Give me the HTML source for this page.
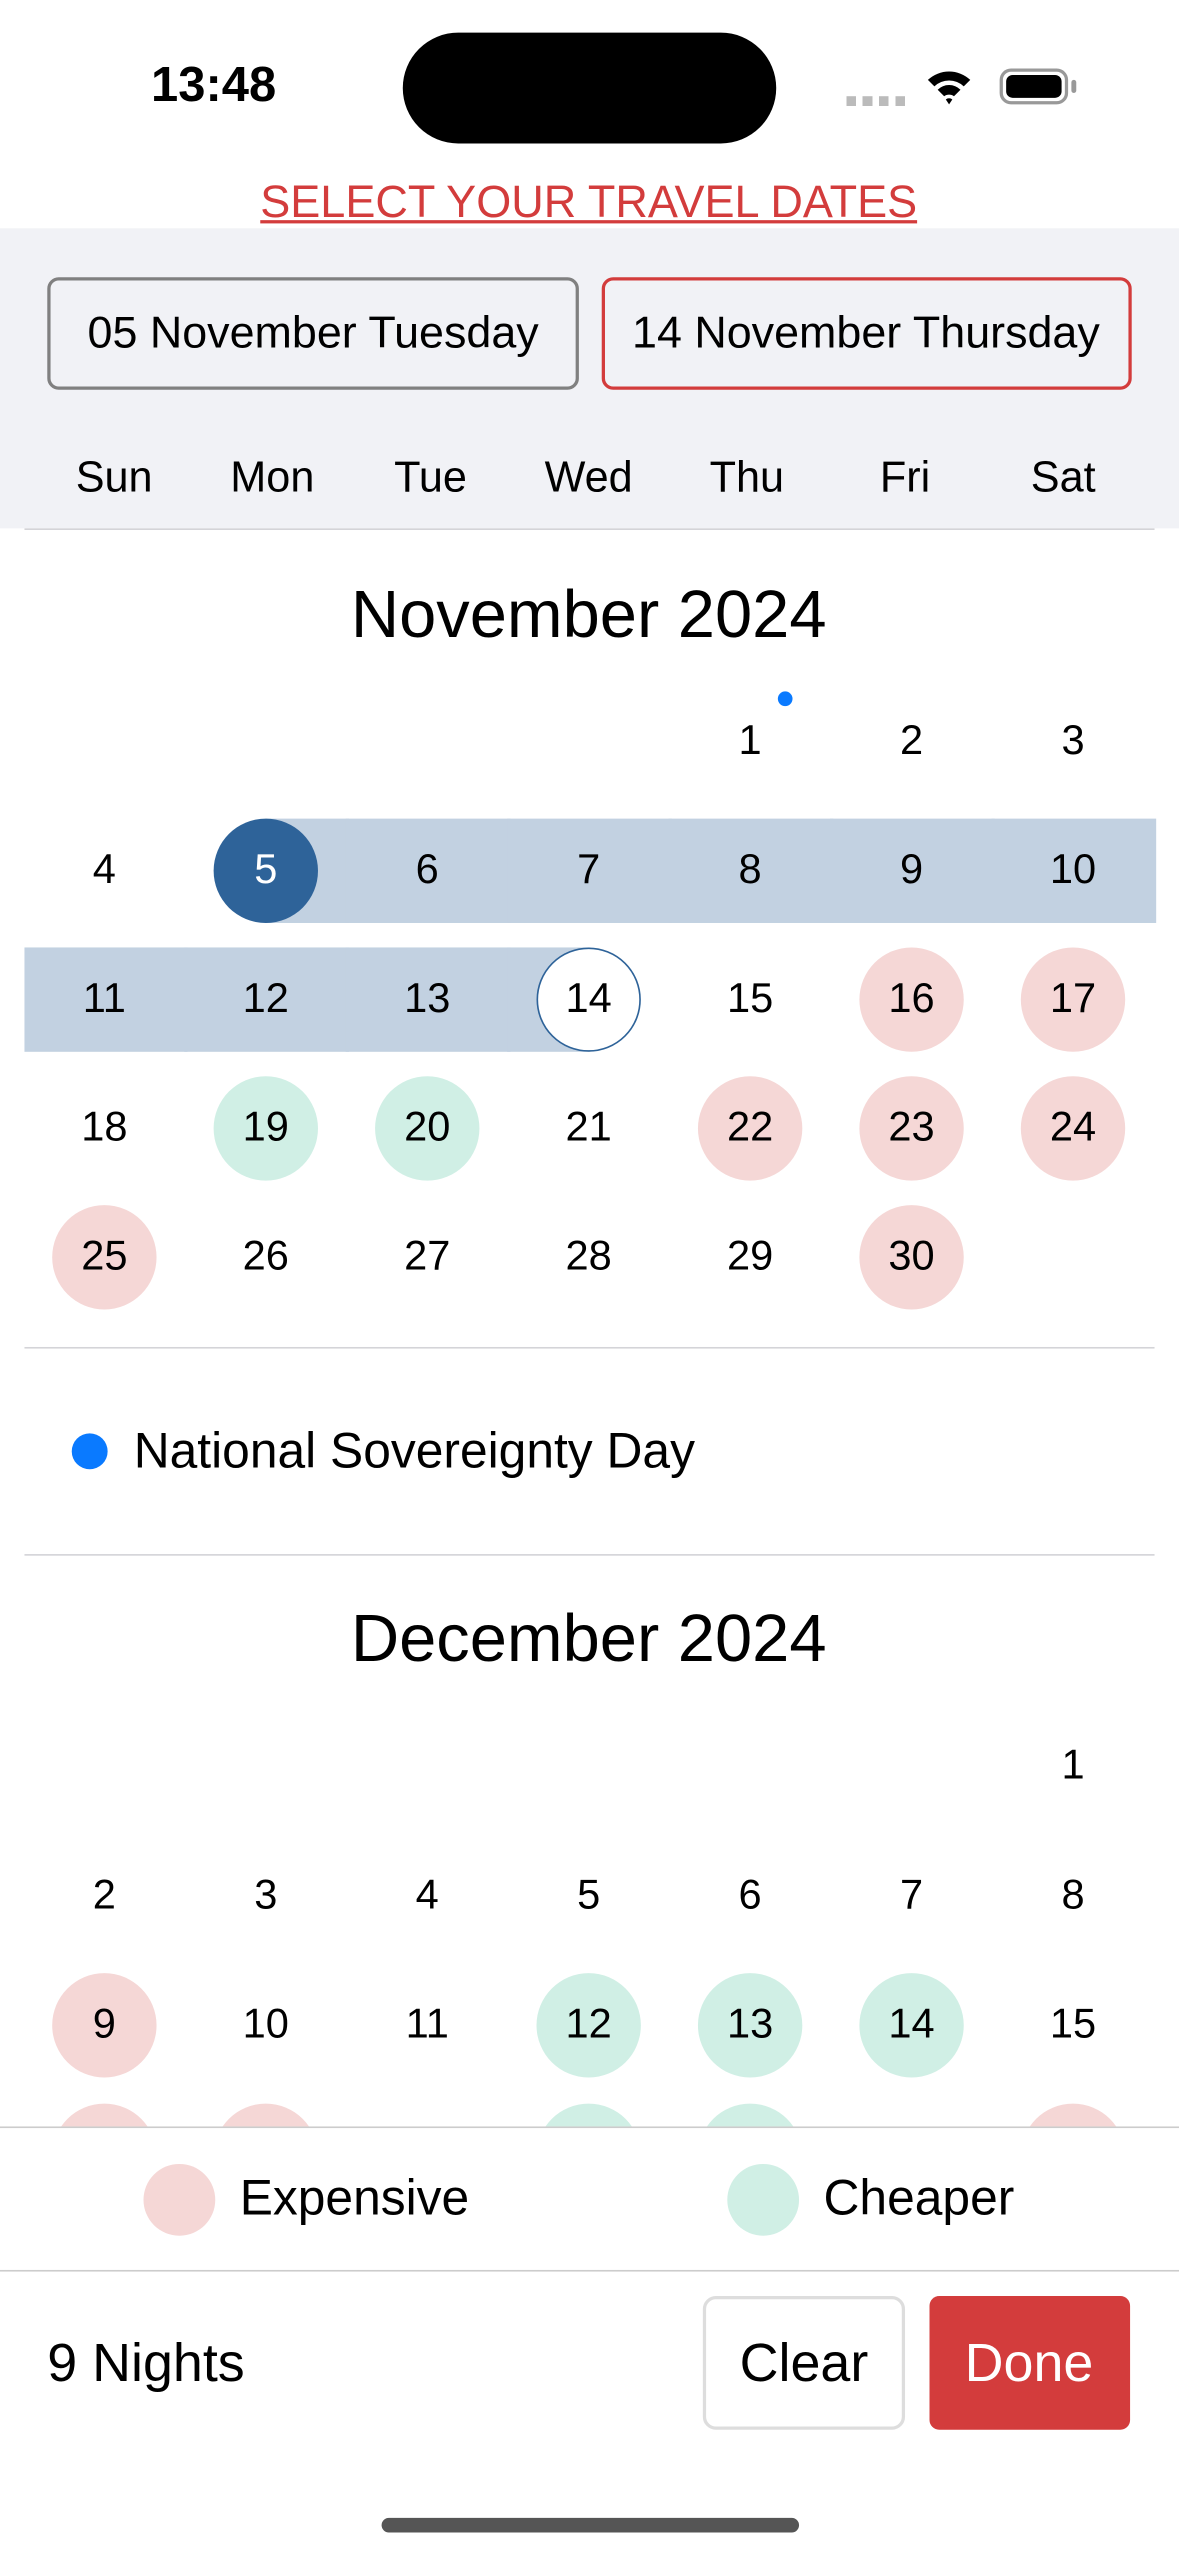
<!DOCTYPE html>
<html><head><meta charset="utf-8">
<style>
html,body{margin:0;padding:0;width:1179px;height:2556px;overflow:hidden;background:#fff;}
#root{position:absolute;left:0;top:0;width:723px;height:1568px;transform:scale(1.63071);transform-origin:0 0;font-family:"Liberation Sans",sans-serif;color:#000;}
.abs{position:absolute;}
.t{position:absolute;white-space:nowrap;}
.c{transform:translate(-50%,-50%);}
.line{position:absolute;height:1px;background:#d4d4d8;}
</style></head><body>
<div id="root">
  <div class="t c" style="left:131px;top:53px;font-size:30px;font-weight:bold;">13:48</div>
  <div class="abs" style="left:247px;top:20px;width:229px;height:68px;border-radius:34px;background:#000;"></div>
  <div class="abs" style="left:519px;top:59px;width:36px;height:6px;background:repeating-linear-gradient(90deg,#bbb 0 6px,transparent 6px 10px);"></div>
  <svg class="abs" style="left:568px;top:41px" width="28" height="24" viewBox="0 0 28 24"><path d="M1 8 A19 19 0 0 1 27 8 L23 12 A13 13 0 0 0 5 12Z M7 14 A10 10 0 0 1 21 14 L17 18 A5 5 0 0 0 11 18Z M12 20 L14 23 L16 20 A3 3 0 0 0 12 20Z" fill="#000"/></svg>
  <div class="abs" style="left:613px;top:42px;width:42px;height:22px;border:2px solid #999;border-radius:7px;box-sizing:border-box;"><div style="position:absolute;left:2px;top:2px;right:2px;bottom:2px;background:#000;border-radius:4px;"></div></div>
  <div class="abs" style="left:657px;top:49px;width:3px;height:8px;background:#999;border-radius:2px;"></div>

  <div class="t c" style="left:361px;top:124px;font-size:27.6px;color:#d33c3c;text-decoration:underline;">SELECT YOUR TRAVEL DATES</div>

  <div class="abs" style="left:0;top:140px;width:723px;height:184px;background:#f1f2f6;"></div>
  <div class="abs" style="left:29px;top:170px;width:326px;height:69px;border:2px solid #808080;border-radius:7px;box-sizing:border-box;"></div>
  <div class="t c" style="left:192px;top:204px;font-size:27.5px;">05 November Tuesday</div>
  <div class="abs" style="left:369px;top:170px;width:325px;height:69px;border:2px solid #d33c3c;border-radius:7px;box-sizing:border-box;"></div>
  <div class="t c" style="left:531px;top:204px;font-size:27.5px;">14 November Thursday</div>
  <div id="wk"></div>
  <div class="line" style="left:15px;top:324px;width:693px;"></div>

  <div class="t c" style="left:361px;top:377px;font-size:41px;">November 2024</div>
  <div class="abs" style="left:477px;top:424px;width:9px;height:9px;border-radius:50%;background:#0a7aff;"></div>
  <div id="cal"></div>
  <div class="line" style="left:15px;top:826px;width:693px;"></div>
  <div class="abs" style="left:44px;top:879px;width:22px;height:22px;border-radius:50%;background:#0a7aff;"></div>
  <div class="t" style="left:82px;top:873px;font-size:30.5px;">National Sovereignty Day</div>
  <div class="line" style="left:15px;top:953px;width:693px;"></div>
  <div class="t c" style="left:361px;top:1005px;font-size:41px;">December 2024</div>

  <div class="abs" style="left:0;top:1304px;width:723px;height:264px;background:#fff;border-top:1px solid #ccc;"></div>
  <div class="abs" style="left:88px;top:1327px;width:44px;height:44px;border-radius:50%;background:#f5d7d6;"></div>
  <div class="t" style="left:147px;top:1331px;font-size:30.5px;">Expensive</div>
  <div class="abs" style="left:446px;top:1327px;width:44px;height:44px;border-radius:50%;background:#d0efe5;"></div>
  <div class="t" style="left:505px;top:1331px;font-size:30.5px;">Cheaper</div>
  <div class="line" style="left:0;top:1392px;width:723px;background:#ccc;"></div>
  <div class="t" style="left:29px;top:1430px;font-size:33px;">9 Nights</div>
  <div class="abs" style="left:431px;top:1408px;width:124px;height:82px;border:2px solid #ddd;border-radius:8px;box-sizing:border-box;"></div>
  <div class="t c" style="left:493px;top:1449px;font-size:33px;">Clear</div>
  <div class="abs" style="left:570px;top:1408px;width:123px;height:82px;background:#d33c3c;border-radius:6px;"></div>
  <div class="t c" style="left:631px;top:1449px;font-size:33px;color:#fff;">Done</div>
  <div class="abs" style="left:234px;top:1544px;width:256px;height:9px;border-radius:5px;background:#555;"></div>
</div>
<script>
const weekdays=["Sun","Mon","Tue","Wed","Thu","Fri","Sat"];
const novStartCol=4, novDays=30;
const novExpensive=[16,17,22,23,24,25,30];
const novCheaper=[19,20];
const rangeStart=5, rangeEnd=14;
const decStartCol=6;
const decExpensive=[9,16,17,22];
const decCheaper=[12,13,14,19,20];
const decVisible=22;

const wk=document.getElementById('wk');
weekdays.forEach((w,i)=>{
  const d=document.createElement('div');
  d.className='t c';d.style.left=(70+i*97)+'px';d.style.top='293px';d.style.fontSize='26.5px';
  d.textContent=w;
  
  
  wk.appendChild(d);
});
const cal=document.getElementById('cal');
const colX=c=>64+c*99;
function addDay(day,col,y,opts,month){
  const x=colX(col);
  if(opts.bg||opts.border){
    const b=document.createElement('div');
    b.className='abs';
    b.style.cssText=`left:${x-32}px;top:${y-32}px;width:64px;height:64px;border-radius:50%;box-sizing:border-box;background:${opts.bg||'#fff'};${opts.border?'border:1.5px solid #2e6399;':''}`;
    
    
    cal.appendChild(b);
  }
  const t=document.createElement('div');
  t.className='t c';t.style.left=x+'px';t.style.top=y+'px';t.style.fontSize='25.5px';
  if(opts.color)t.style.color=opts.color;
  t.textContent=day;
  
  
  cal.appendChild(t);
}
for(let d=rangeStart;d<=rangeEnd;d++){
  const idx=novStartCol+d-1,row=Math.floor(idx/7),col=idx%7,y=455+row*79;
  let l=col===0?15:colX(col)-50, r=col===6?708:colX(col)+50;
  if(d===rangeStart)l=colX(col);
  if(d===rangeEnd)r=colX(col);
  const b=document.createElement('div');
  b.className='abs';
  b.style.cssText=`left:${l}px;top:${y-32}px;width:${r-l+1}px;height:64px;background:#c2d1e1;`;
  
  
  cal.appendChild(b);
}
for(let d=1;d<=novDays;d++){
  const idx=novStartCol+d-1,row=Math.floor(idx/7),col=idx%7,y=455+row*79;
  let o={};
  if(d===rangeStart)o={bg:'#2e6399',color:'#fff'};
  else if(d===rangeEnd)o={bg:'#fff',border:true};
  else if(novExpensive.includes(d))o={bg:'#f5d7d6'};
  else if(novCheaper.includes(d))o={bg:'#d0efe5'};
  addDay(d,col,y,o,'nov');
}
for(let d=1;d<=decVisible;d++){
  const idx=decStartCol+d-1,row=Math.floor(idx/7),col=idx%7,y=1083+row*79.5;
  let o={};
  if(decExpensive.includes(d))o={bg:'#f5d7d6'};
  else if(decCheaper.includes(d))o={bg:'#d0efe5'};
  addDay(d,col,y,o,'dec');
}
</script>
</body></html>
